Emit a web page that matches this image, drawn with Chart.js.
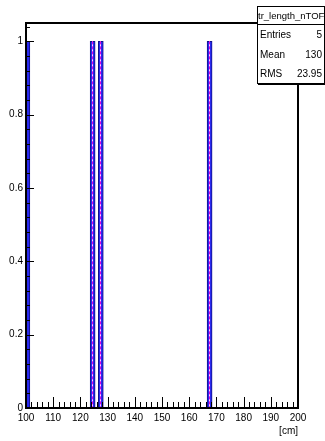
<!DOCTYPE html>
<html>
<head>
<meta charset="utf-8">
<script src="https://cdn.jsdelivr.net/npm/chart.js@4/dist/chart.umd.min.js"></script>
<style>
  body { margin: 0; background: #fff; }
  #wrap { position: relative; width: 325px; height: 441px; }
  #stats {
    position: absolute; left: 257px; top: 6px; width: 66px; height: 76px;
    background: #fff; border: 1px solid #000; box-shadow: 1px 1px 0 #000;
    font-family: "Liberation Sans", Arial, sans-serif; color: #000;
  }
  #stats .ttl { height: 17px; line-height: 17px; font-size: 9.5px; text-align: center; border-bottom: 1px solid #000; white-space: nowrap; }
  #stats .row { height: 19.5px; line-height: 19.5px; font-size: 10px; display: flex; justify-content: space-between; padding: 0 2px 0 2px; }
</style>
</head>
<body>
<div id="wrap">
  <canvas id="c" width="325" height="441"></canvas>
  <div id="stats">
    <div class="ttl">tr_length_nTOF</div>
    <div class="row"><span>Entries</span><span>5</span></div>
    <div class="row"><span>Mean</span><span>130</span></div>
    <div class="row"><span>RMS</span><span>23.95</span></div>
  </div>
</div>
<script>
// histogram bins that have content (bin centres, cm) and their counts
const binCenters = [100.5, 124.5, 127.5, 167.5];
const counts = [1, 1, 1, 1];
const xTicks = [100, 110, 120, 130, 140, 150, 160, 170, 180, 190, 200];
const yTicks = [0, 0.2, 0.4, 0.6, 0.8, 1];

const font = { family: '"Liberation Sans", Arial, sans-serif', size: 10 };

// ROOT style frame + inside ticks
const rootFrame = {
  id: 'rootFrame',
  afterDatasetsDraw(chart) {
    const ctx = chart.ctx;
    const meta = chart.getDatasetMeta(0);
    ctx.save();
    meta.data.forEach(function (bar) {
      const cx = Math.floor(bar.x - bar.width / 2) + 2.5;
      ctx.beginPath();
      ctx.lineWidth = 1;
      ctx.strokeStyle = '#ffd0ff';
      ctx.moveTo(cx, bar.y);
      ctx.lineTo(cx, bar.base);
      ctx.stroke();
      ctx.beginPath();
      ctx.setLineDash([3, 2]);
      ctx.strokeStyle = '#e000e0';
      ctx.moveTo(cx, bar.y);
      ctx.lineTo(cx, bar.base);
      ctx.stroke();
      ctx.setLineDash([]);
    });
    ctx.restore();
  },
  afterDraw(chart) {
    const ctx = chart.ctx;
    const a = chart.chartArea;
    const xs = chart.scales.x, ys = chart.scales.y;
    ctx.save();
    ctx.strokeStyle = '#000';
    ctx.lineWidth = 1;
    ctx.beginPath();
    for (let v = 100; v <= 200; v += 2) {
      const px = Math.round(xs.getPixelForValue(v)) + 0.5;
      const len = (v % 10 === 0) ? 11 : 6;
      ctx.moveTo(px, a.bottom);
      ctx.lineTo(px, a.bottom - len);
    }
    for (let i = 0; i <= 26; i++) {
      const v = i * 0.04;
      const py = Math.round(ys.getPixelForValue(v)) + 0.5;
      const len = (i % 5 === 0) ? 8 : 4;
      ctx.moveTo(a.left, py);
      ctx.lineTo(a.left + len, py);
    }
    ctx.stroke();
    ctx.lineWidth = 2;
    ctx.strokeRect(a.left, a.top, a.right - a.left, a.bottom - a.top);
    ctx.restore();
  }
};

new Chart(document.getElementById('c'), {
  type: 'bar',
  data: {
    datasets: [{
      data: binCenters.map(function (x, i) { return { x: x, y: counts[i] }; }),
      backgroundColor: '#2a2af0',
      borderColor: '#10108a',
      borderWidth: 1,
      barThickness: 5
    }]
  },
  options: {
    responsive: false,
    animation: false,
    layout: { padding: { top: 23, right: 27, left: 0, bottom: 0 } },
    plugins: { legend: { display: false }, tooltip: { enabled: false } },
    scales: {
      x: {
        type: 'linear', min: 100, max: 200, offset: false,
        grid: { display: false, drawTicks: false, offset: false },
        border: { display: false },
        afterBuildTicks: function (s) { s.ticks = xTicks.map(function (v) { return { value: v }; }); },
        afterFit: function (s) { s.height = 33; },
        ticks: { font: font, color: '#000', padding: 4, autoSkip: false, maxRotation: 0 },
        title: { display: true, text: '[cm]', align: 'end', font: font, color: '#000', padding: { top: 0, bottom: 4 } }
      },
      y: {
        min: 0, max: 1.05,
        grid: { display: false, drawTicks: false },
        border: { display: false },
        afterBuildTicks: function (s) { s.ticks = yTicks.map(function (v) { return { value: v }; }); },
        afterFit: function (s) { s.width = 26; },
        ticks: { font: font, color: '#000', padding: 3, callback: function (v) { return String(+v.toFixed(1)); } }
      }
    }
  },
  plugins: [rootFrame]
});
</script>
</body>
</html>
